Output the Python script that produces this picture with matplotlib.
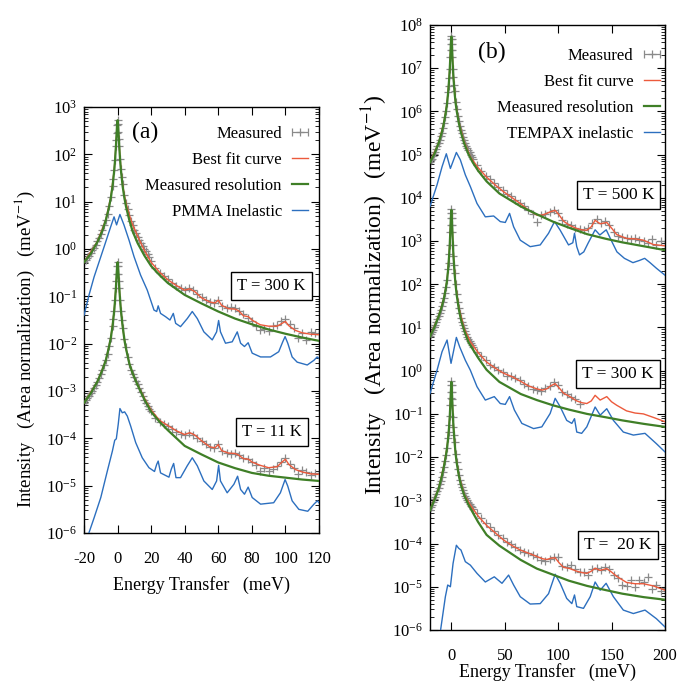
import numpy as np
import matplotlib
matplotlib.use('Agg')
import matplotlib.pyplot as plt
from matplotlib.ticker import LogLocator, NullFormatter, FixedLocator

plt.rcParams['font.family'] = ['Liberation Serif', 'DejaVu Serif']
plt.rcParams['mathtext.fontset'] = 'stix'
plt.rcParams['axes.unicode_minus'] = False

# ---------------- panel (a): PMMA, values given as log10(intensity) ----------------
res_a_x = [-20, -16, -12, -9, -7, -5, -4, -3, -2, -1.5, -1, -0.6, -0.3, 0, 0.3, 0.6, 1, 1.5, 2, 3,
           4, 5, 7, 9, 12, 16, 20, 25, 30, 40, 50, 60, 70, 80, 90, 100, 110, 120]
res_a300 = [-0.28, -0.1, 0.15, 0.39, 0.61, 0.9, 1.09, 1.33, 1.66, 1.88, 2.16, 2.43, 2.63, 2.72, 2.63, 2.43, 2.16, 1.88, 1.66, 1.33,
            1.09, 0.9, 0.61, 0.37, 0.12, -0.14, -0.36, -0.55, -0.72, -0.97, -1.15, -1.32, -1.47, -1.59, -1.7, -1.79, -1.87, -1.94]
res_a11 = [-3.25, -3.05, -2.8, -2.55, -2.35, -2.05, -1.87, -1.63, -1.3, -1.08, -0.82, -0.55, -0.38, -0.28, -0.38, -0.55, -0.82, -1.08, -1.3, -1.63,
           -1.9, -2.1, -2.42, -2.63, -2.88, -3.18, -3.44, -3.65, -3.83, -4.16, -4.34, -4.51, -4.63, -4.73, -4.79, -4.83, -4.87, -4.9]

fit_a_x = [-20, -12, -7, -4, -2, -1, 0, 1, 2, 3, 4, 5, 7, 9, 12, 16, 20, 25, 30, 35,
           40, 43, 46, 50, 55, 58, 60, 62, 66, 70, 72, 75, 78, 80, 85, 90, 95, 98, 100, 102,
           106, 110, 115, 120]
fit_a300 = [-0.28, 0.16, 0.62, 1.1, 1.67, 2.17, 2.72, 2.18, 1.69, 1.37, 1.15, 0.98, 0.72, 0.51, 0.27, -0.03, -0.28, -0.49, -0.65, -0.77,
            -0.87, -0.84, -0.9, -1.03, -1.12, -1.14, -1.08, -1.19, -1.26, -1.27, -1.3, -1.41, -1.43, -1.5, -1.6, -1.63, -1.63, -1.57, -1.53, -1.62,
            -1.72, -1.77, -1.8, -1.81]
fit_a11 = [-3.25, -2.8, -2.35, -1.87, -1.3, -0.82, -0.28, -0.82, -1.3, -1.63, -1.9, -2.1, -2.42, -2.63, -2.87, -3.15, -3.4, -3.62, -3.73, -3.84,
           -3.92, -3.88, -3.93, -4.05, -4.18, -4.2, -4.13, -4.26, -4.31, -4.32, -4.35, -4.43, -4.44, -4.5, -4.57, -4.62, -4.6, -4.5, -4.44, -4.55,
           -4.66, -4.71, -4.75, -4.76]

inel_a300_x = [-20, -17, -14, -11, -8, -4.1, -2.1, -0.6, 1.4, 3.8, 6.8, 9.8, 13.7, 17.7, 21.7, 23.3, 24.2, 25.6, 28.6, 31.2,
               33.2, 34.6, 37.5, 41.5, 44.5, 47.5, 51.4, 56.4, 59, 60.2, 61.3, 64.3, 68.3, 71.3, 73.3, 75.6, 77.8, 80.2, 85.2, 91.1,
               96, 98.4, 99.8, 101.4, 104, 107, 113, 117, 118.9, 120]
inel_a300 = [-1.4, -0.97, -0.59, -0.27, 0.05, 0.47, 0.68, 0.51, 0.73, 0.51, 0.19, -0.16, -0.55, -0.87, -1.29, -1.32, -1.2, -1.36, -1.43, -1.5,
             -1.36, -1.57, -1.64, -1.47, -1.32, -1.47, -1.75, -1.92, -1.75, -1.51, -1.75, -1.99, -1.96, -1.75, -1.99, -2.06, -1.98, -2.2, -2.28, -2.28,
             -2.17, -1.96, -1.85, -1.99, -2.28, -2.39, -2.45, -2.35, -2.28, -2.31]
inel_a11_x = [-19, -17, -14, -10, -6.1, -3.1, -1.7, -0.75, 0.4, 1.4, 2.8, 4.2, 5.8, 7.8, 10.8, 14.7, 18.7, 22, 23.3, 24.2,
              25.6, 30.6, 32, 33.4, 34.8, 37.5, 41.5, 44.5, 47.5, 51.4, 56.4, 59, 60.2, 61.3, 65.3, 69.3, 71.5, 73.3, 75.6, 77.8,
              80.2, 85.2, 93, 97, 99.8, 101.4, 104, 108, 113.3, 117, 119, 120]
inel_a11 = [-6.2, -5.99, -5.68, -5.25, -4.69, -4.27, -4.04, -4.01, -3.7, -3.37, -3.46, -3.44, -3.53, -3.74, -4.09, -4.41, -4.62, -4.7, -4.55, -4.48,
            -4.73, -4.82, -4.65, -4.53, -4.83, -4.83, -4.58, -4.41, -4.58, -4.9, -5.08, -4.9, -4.57, -4.9, -5.15, -4.97, -4.8, -5.08, -5.18, -5.03,
            -5.25, -5.39, -5.36, -5.15, -4.87, -5.01, -5.32, -5.5, -5.54, -5.39, -5.32, -5.36]

# measured energy bins
meas_center_x = [-20, -19, -18, -17, -16, -15, -14, -13, -12, -11, -10, -9, -8, -7, -6, -5, -4, -3,
                 -2.5, -2, -1.5, -1, -0.75, -0.5, -0.25, 0, 0.25, 0.5, 0.75, 1, 1.5, 2, 2.5,
                 3, 4, 5, 6, 7, 8, 9, 10, 11, 12, 13, 14, 15, 16, 17, 18, 19, 20]
meas_a_tail_x = [22.5, 25, 27.5, 30, 32.5, 35, 37.5, 40, 42.5, 45, 47.5, 50, 52.5, 55, 57.5, 60, 62.5, 65, 67.5, 70,
                 72.5, 75, 77.5, 80, 82.5, 85, 87.5, 90, 92.5, 95, 97.5, 100, 102.5, 105, 107.5, 110, 112.5, 115, 117.5, 120]
meas_a300 = [-0.28, -0.23, -0.18, -0.14, -0.08, -0.03, 0.03, 0.09, 0.16, 0.23, 0.31, 0.4, 0.5, 0.62, 0.75, 0.91, 1.1, 1.34,
             1.48, 1.67, 1.88, 2.17, 2.3, 2.45, 2.63, 2.72, 2.64, 2.47, 2.32, 2.18, 1.9, 1.69, 1.52,
             1.37, 1.15, 0.98, 0.84, 0.72, 0.6, 0.5, 0.41, 0.33, 0.26, 0.19, 0.13, 0.07, 0.01, -0.05, -0.11, -0.17, -0.25,
             -0.4, -0.5, -0.57, -0.64, -0.72, -0.78, -0.82, -0.86, -0.83, -0.86, -0.95, -1.02, -1.08, -1.12, -1.14, -1.07, -1.2, -1.24, -1.22, -1.25,
             -1.3, -1.38, -1.45, -1.53, -1.62, -1.72, -1.68, -1.74, -1.62, -1.6, -1.52, -1.48, -1.58, -1.66, -1.88, -1.78, -1.92, -1.75, -1.78, -1.8]
meas_a11 = [-3.25, -3.2, -3.15, -3.1, -3.05, -2.99, -2.93, -2.87, -2.8, -2.72, -2.64, -2.55, -2.46, -2.35, -2.21, -2.05, -1.87, -1.63,
            -1.48, -1.3, -1.08, -0.82, -0.68, -0.52, -0.36, -0.28, -0.36, -0.52, -0.68, -0.82, -1.08, -1.3, -1.5,
            -1.66, -1.9, -2.08, -2.28, -2.42, -2.55, -2.63, -2.7, -2.78, -2.86, -2.94, -3.02, -3.1, -3.18, -3.25, -3.31, -3.37, -3.43,
            -3.56, -3.66, -3.7, -3.74, -3.8, -3.86, -3.9, -3.92, -3.88, -3.92, -4.0, -4.05, -4.12, -4.18, -4.2, -4.12, -4.26, -4.3, -4.32, -4.3,
            -4.36, -4.42, -4.44, -4.5, -4.56, -4.68, -4.62, -4.7, -4.64, -4.58, -4.5, -4.42, -4.55, -4.62, -4.75, -4.66, -4.72, -4.78, -4.74, -4.76]

# ---------------- panel (b): TEMPAX ----------------
res_b_x = [-20, -16, -12, -9, -7, -5, -4, -3, -2, -1.5, -1, -0.5, 0, 0.5, 1, 1.5, 2, 3, 4, 5,
           7, 9, 12, 16, 20, 25, 33, 45, 65, 80, 95, 110, 127, 145, 160, 180, 200]
res_b500 = [4.82, 5.01, 5.26, 5.51, 5.73, 6.01, 6.19, 6.44, 6.77, 6.98, 7.25, 7.55, 7.73, 7.55, 7.25, 6.98, 6.77, 6.44, 6.19, 6.01,
            5.73, 5.51, 5.26, 5.01, 4.82, 4.63, 4.38, 4.1, 3.8, 3.62, 3.45, 3.31, 3.16, 3.05, 2.97, 2.88, 2.79]
res_b300 = [0.79, 1.0, 1.25, 1.48, 1.67, 1.93, 2.1, 2.35, 2.7, 2.92, 3.22, 3.53, 3.72, 3.52, 3.2, 2.9, 2.65, 2.25, 1.98, 1.75,
            1.42, 1.18, 0.93, 0.66, 0.5, 0.3, 0.02, -0.26, -0.54, -0.68, -0.8, -0.9, -1.0, -1.08, -1.15, -1.23, -1.3]
res_b20 = [-3.23, -3.0, -2.74, -2.45, -2.22, -1.95, -1.78, -1.56, -1.26, -1.06, -0.8, -0.5, -0.26, -0.5, -0.8, -1.07, -1.3, -1.65, -1.93, -2.13,
           -2.43, -2.65, -2.88, -3.1, -3.28, -3.5, -3.8, -4.05, -4.38, -4.58, -4.72, -4.86, -4.98, -5.08, -5.16, -5.24, -5.3]

fit_b_x = [-20, -12, -7, -4, -2, -1, 0, 1, 2, 4, 7, 12, 17.8, 25, 33, 41, 49, 57, 64.5, 72,
           80, 85, 89.4, 93, 97.2, 101, 105, 111, 117.4, 122, 126.8, 131, 134.6, 139.3, 145.5, 150, 154.8, 164, 172, 179.8,
           189, 200]
fit_b500 = [4.83, 5.27, 5.74, 6.2, 6.78, 7.26, 7.73, 7.26, 6.78, 6.2, 5.75, 5.3, 4.95, 4.7, 4.48, 4.3, 4.14, 4.0, 3.87, 3.72,
            3.6, 3.6, 3.64, 3.68, 3.71, 3.6, 3.46, 3.36, 3.29, 3.26, 3.25, 3.33, 3.48, 3.4, 3.43, 3.3, 3.15, 3.06, 3.05, 3.02,
            2.92, 2.89]
fit_b300 = [0.8, 1.26, 1.68, 2.1, 2.7, 3.22, 3.72, 3.2, 2.66, 2.0, 1.46, 0.98, 0.67, 0.42, 0.2, 0.06, -0.06, -0.14, -0.24, -0.35,
            -0.42, -0.45, -0.42, -0.35, -0.3, -0.4, -0.52, -0.6, -0.7, -0.74, -0.76, -0.7, -0.57, -0.68, -0.6, -0.72, -0.8, -0.93, -0.98, -1.0,
            -1.08, -1.18]
fit_b20 = [-3.22, -2.73, -2.2, -1.77, -1.26, -0.8, -0.26, -0.8, -1.3, -1.93, -2.42, -2.86, -3.11, -3.36, -3.58, -3.75, -3.92, -4.05, -4.15, -4.22,
           -4.3, -4.35, -4.37, -4.34, -4.33, -4.45, -4.55, -4.58, -4.64, -4.67, -4.69, -4.64, -4.57, -4.62, -4.58, -4.66, -4.76, -4.9, -4.93, -4.93,
           -4.98, -5.08]

inel_b500_x = [-20, -13.4, -8.7, -4.7, -0.9, 4.7, 8.4, 13.1, 17.8, 24, 31.8, 39.6, 45.8, 50.5, 54.5, 58.3, 64.5, 73.8, 83.2, 91,
               96.6, 101.9, 109.7, 113.7, 115.3, 117.4, 120, 124, 128, 134.6, 139, 145, 150, 155, 162, 170, 176, 181, 186, 192, 200]
inel_b500 = [3.8, 4.3, 4.72, 5.02, 4.68, 5.05, 4.88, 4.53, 4.26, 3.87, 3.56, 3.58, 3.45, 3.43, 3.64, 3.33, 3.02, 2.87, 2.91, 3.18,
             3.45, 3.25, 2.91, 2.96, 3.18, 2.87, 2.68, 2.75, 2.95, 3.26, 3.14, 3.26, 3.0, 2.75, 2.6, 2.5, 2.55, 2.6, 2.5, 2.37, 2.21]
inel_b300_x = [-20, -13.4, -8.7, -4, -0.3, 4.7, 7.8, 13.1, 17.8, 24, 31.8, 40.2, 45.8, 50.5, 54.5, 59, 66, 77, 84.7, 92.5,
               97.2, 102, 108, 112.8, 115.3, 117.4, 122, 126.8, 134.6, 139.3, 145.5, 151.7, 161, 170.4, 181.3, 192, 200]
inel_b300 = [-0.53, 0.01, 0.44, 0.71, 0.17, 0.77, 0.55, 0.24, 0.01, -0.37, -0.68, -0.6, -0.76, -0.78, -0.6, -0.91, -1.22, -1.34, -1.3, -0.99,
             -0.64, -0.84, -1.15, -1.22, -1.11, -1.42, -1.45, -1.3, -0.84, -1.03, -0.88, -1.15, -1.42, -1.49, -1.45, -1.69, -1.88]
inel_b20_x = [-12, -10.3, -5.6, -3.4, -0.9, 1.6, 4.7, 6.9, 9.0, 13.1, 17.8, 24, 31.8, 40.2, 47.4, 53.6, 58.3, 64.5, 73.8, 83.2,
              91, 97.2, 101.9, 108, 112.8, 115.3, 117.4, 123.7, 130, 134.6, 139.3, 144.9, 151.7, 161, 170.4, 181.3, 192, 200]
inel_b20 = [-6.4, -6.04, -5.23, -4.96, -5.0, -4.46, -4.04, -4.11, -4.15, -4.42, -4.5, -4.69, -4.89, -4.77, -4.92, -4.73, -4.96, -5.23, -5.4, -5.39,
            -5.16, -4.71, -4.92, -5.27, -5.39, -5.19, -5.46, -5.5, -5.23, -4.89, -5.08, -4.92, -5.23, -5.54, -5.62, -5.54, -5.74, -5.93]

meas_b_tail_x = [24, 28, 32, 36, 40, 44, 48, 52, 56, 60, 64, 68, 72, 76, 80, 84, 88, 92, 96, 100,
                 104, 108, 112, 116, 120, 124, 128, 132, 136, 140, 144, 148, 152, 156, 160, 164, 168, 172, 176, 180,
                 184, 188, 192, 196, 200]
meas_b500 = [4.82, 4.87, 4.91, 4.96, 5.01, 5.07, 5.13, 5.19, 5.26, 5.33, 5.42, 5.51, 5.61, 5.73, 5.86, 6.01, 6.19, 6.44,
             6.59, 6.77, 6.98, 7.25, 7.41, 7.55, 7.68, 7.75, 7.68, 7.56, 7.41, 7.26, 6.99, 6.79, 6.62,
             6.47, 6.22, 6.05, 5.9, 5.78, 5.67, 5.57, 5.49, 5.41, 5.34, 5.27, 5.21, 5.15, 5.1, 5.05, 5.0, 4.95, 4.91,
             4.76, 4.62, 4.5, 4.44, 4.35, 4.24, 4.18, 4.1, 4.05, 3.95, 3.88, 3.8, 3.73, 3.62, 3.45, 3.6, 3.63, 3.68, 3.72, 3.66,
             3.48, 3.4, 3.36, 3.3, 3.28, 3.25, 3.3, 3.42, 3.5, 3.42, 3.46, 3.36, 3.2, 3.12, 3.1, 3.07, 3.04, 3.06, 3.03, 3.0,
             2.95, 3.05, 2.9, 3.0, 2.92]
meas_b300 = [0.8, 0.85, 0.9, 0.95, 1.0, 1.06, 1.12, 1.19, 1.26, 1.33, 1.4, 1.49, 1.58, 1.68, 1.8, 1.94, 2.1, 2.35,
             2.5, 2.7, 2.92, 3.22, 3.38, 3.53, 3.66, 3.74, 3.66, 3.53, 3.36, 3.2, 2.91, 2.66, 2.45,
             2.26, 2.0, 1.78, 1.6, 1.46, 1.34, 1.23, 1.13, 1.05, 0.98, 0.91, 0.85, 0.79, 0.74, 0.69, 0.64, 0.59, 0.55,
             0.44, 0.33, 0.24, 0.14, 0.09, 0.02, -0.03, -0.12, -0.12, -0.18, -0.22, -0.3, -0.35, -0.42, -0.44, -0.46, -0.4, -0.35, -0.26, -0.33,
             -0.5, -0.55, -0.62, -0.65, -0.78]
meas_b20 = [-3.22, -3.16, -3.1, -3.04, -2.98, -2.92, -2.85, -2.78, -2.71, -2.63, -2.55, -2.45, -2.34, -2.22, -2.09, -1.95, -1.78, -1.56,
            -1.42, -1.26, -1.06, -0.8, -0.64, -0.5, -0.32, -0.25, -0.32, -0.5, -0.65, -0.8, -1.07, -1.3, -1.48,
            -1.65, -1.93, -2.12, -2.28, -2.42, -2.53, -2.62, -2.7, -2.77, -2.83, -2.89, -2.95, -3.0, -3.05, -3.09, -3.13, -3.16, -3.19,
            -3.3, -3.42, -3.52, -3.62, -3.7, -3.8, -3.88, -3.96, -4.02, -4.08, -4.14, -4.2, -4.23, -4.26, -4.3, -4.38, -4.4, -4.36, -4.3, -4.3,
            -4.52, -4.55, -4.5, -4.6, -4.66, -4.66, -4.72, -4.6, -4.56, -4.62, -4.55, -4.6, -4.72, -4.8, -4.95, -4.98, -4.85, -5.0, -4.85, -4.9,
            -4.78, -5.05, -4.95, -5.1, -5.04]

C_MEAS = '#8a8a8a'
C_FIT = '#ec5a3c'
C_RES = '#3f7f27'
C_INEL = '#2c6fbf'


def lin(v):
    return 10.0 ** np.asarray(v, dtype=float)


def draw_set(ax, mx, my, fx, fy, rx, ry, ix, iy):
    ax.plot(mx, lin(my), '+', color=C_MEAS, ms=6, mew=0.9, zorder=2)
    ax.plot(fx, lin(fy), color=C_FIT, lw=1.0, zorder=3)
    ax.plot(ix, lin(iy), color=C_INEL, lw=1.0, zorder=3)
    ax.plot(rx, lin(ry), color=C_RES, lw=1.6, zorder=4)


def style_axes(ax, xlim, xticks, ylim):
    ax.set_yscale('log')
    ax.set_xlim(*xlim)
    ax.set_ylim(*ylim)
    ax.xaxis.set_major_locator(FixedLocator(xticks))
    ax.yaxis.set_major_locator(LogLocator(base=10, numticks=30))
    ax.yaxis.set_minor_locator(LogLocator(base=10, subs=np.arange(2, 10), numticks=300))
    ax.yaxis.set_minor_formatter(NullFormatter())
    ax.tick_params(which='both', direction='in', top=True, right=True, labelsize=12)
    ax.tick_params(which='major', length=6, width=0.8)
    ax.tick_params(which='minor', length=3, width=0.6)
    ax.tick_params(axis='x', pad=13)
    ax.tick_params(axis='y', pad=5)
    for s in ax.spines.values():
        s.set_linewidth(1.0)


def legend(ax, inel_label, anchor):
    h_meas = ax.errorbar([np.nan], [np.nan], xerr=[1.0], fmt='+', color=C_MEAS, ms=6, mew=0.9,
                         elinewidth=0.9, capsize=3)
    h_fit, = ax.plot([], [], color=C_FIT, lw=1.0)
    h_res, = ax.plot([], [], color=C_RES, lw=1.6)
    h_inel, = ax.plot([], [], color=C_INEL, lw=1.0)
    ax.legend([h_meas, h_fit, h_res, h_inel],
              ['Measured', 'Best fit curve', 'Measured resolution', inel_label],
              loc='upper right', bbox_to_anchor=anchor, frameon=False, markerfirst=False,
              fontsize=12, handlelength=1.0, handletextpad=0.6, labelspacing=0.6,
              borderpad=0, borderaxespad=0)


def temp_box(ax, x, y, s, size):
    ax.text(x, y, s, transform=ax.transAxes, ha='center', va='center', fontsize=size, zorder=6,
            bbox=dict(boxstyle='square,pad=0.35', fc='white', ec='black', lw=1.0))


fig = plt.figure(figsize=(6.78, 6.90), dpi=100)
ax_a = fig.add_axes([0.1239, 0.2275, 0.3466, 0.6174])
ax_b = fig.add_axes([0.6342, 0.0870, 0.3466, 0.8768])

# panel (a)
draw_set(ax_a, meas_center_x + meas_a_tail_x, meas_a300, fit_a_x, fit_a300, res_a_x, res_a300, inel_a300_x, inel_a300)
draw_set(ax_a, meas_center_x + meas_a_tail_x, meas_a11, fit_a_x, fit_a11, res_a_x, res_a11, inel_a11_x, inel_a11)
style_axes(ax_a, (-20, 120), [-20, 0, 20, 40, 60, 80, 100, 120], (1e-6, 1e3))
legend(ax_a, 'PMMA Inelastic', (0.955, 0.956))
ax_a.text(0.26, 0.941, '(a)', transform=ax_a.transAxes, ha='center', va='center', fontsize=17)
temp_box(ax_a, 0.798, 0.58, 'T = 300 K', 12)
temp_box(ax_a, 0.80, 0.237, 'T = 11 K', 12)
ax_a.set_xlabel('Energy Transfer   (meV)', fontsize=13, va='center')
ax_a.xaxis.set_label_coords(0.5, -0.122)
ax_a.set_ylabel('Intensity   (Area normalization)   (meV$^{-1}$)', fontsize=13.5, va='center')
ax_a.yaxis.set_label_coords(-0.25, 0.432)

# panel (b)
meas_b_x = meas_center_x + meas_b_tail_x
draw_set(ax_b, meas_b_x, meas_b500, fit_b_x, fit_b500, res_b_x, res_b500, inel_b500_x, inel_b500)
draw_set(ax_b, meas_b_x[:len(meas_b300)], meas_b300, fit_b_x, fit_b300, res_b_x, res_b300, inel_b300_x, inel_b300)
draw_set(ax_b, meas_b_x, meas_b20, fit_b_x, fit_b20, res_b_x, res_b20, inel_b20_x, inel_b20)
style_axes(ax_b, (-20, 200), [0, 50, 100, 150, 200], (1e-6, 1e8))
legend(ax_b, 'TEMPAX inelastic', (0.98, 0.962))
ax_b.text(0.264, 0.954, '(b)', transform=ax_b.transAxes, ha='center', va='center', fontsize=17)
temp_box(ax_b, 0.802, 0.719, 'T = 500 K', 12.5)
temp_box(ax_b, 0.80, 0.423, 'T = 300 K', 12.5)
temp_box(ax_b, 0.80, 0.141, 'T =  20 K', 12.5)
ax_b.set_xlabel('Energy Transfer   (meV)', fontsize=13, va='center')
ax_b.xaxis.set_label_coords(0.5, -0.069)
ax_b.set_ylabel('Intensity   (Area normalization)   (meV$^{-1}$)', fontsize=17, va='center')
ax_b.yaxis.set_label_coords(-0.234, 0.554)

fig.savefig('out.png', dpi=100)
